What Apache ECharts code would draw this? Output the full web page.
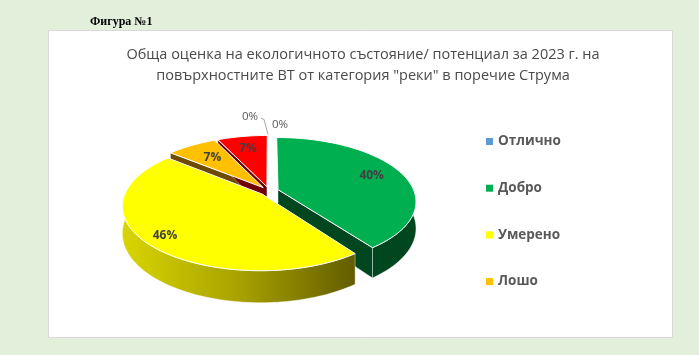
<!DOCTYPE html>
<html>
<head>
<meta charset="utf-8">
<script src="https://cdn.jsdelivr.net/npm/echarts@6/dist/echarts.min.js"></script>
<style>html,body{margin:0;padding:0;background:#e2efda;}#c{width:699px;height:355px;}</style>
</head>
<body>
<div id="c"></div>
<script>
// ---- data ----
const categories = ['Отлично', 'Добро', 'Умерено', 'Лошо', 'Много лошо', 'Неизвестно'];
const values = [0, 40, 46, 7, 7, 0];
const legendNames = ['Отлично', 'Добро', 'Умерено', 'Лошо'];
const topColors = ['#5b9bd5', '#00b050', '#ffff00', '#ffc000', '#ff0000', '#a5a5a5'];
const sideColors = ['#2e5c85', '#00461f', null, '#6e4a00', '#700000', '#555555'];
// label distance from slice apex (fraction of radius), layout only
const labelRadius = [1, 0.76, 0.86, 0.68, 0.74, 1];

// ---- 3D pie projection settings ----
const CX = 269, CY = 191, R = 136, SIN_T = 0.455, COS_T = 0.89, D = 5, H = 26, EXPLODE = 0.07;
const total = values.reduce((a, b) => a + b, 0);

function proj(u, w, down) {
  const s = D / (D - w * COS_T);
  return [CX + R * u * s, CY + R * w * SIN_T * s + down * s];
}
function sliceInfo(i) {
  let acc = 0;
  for (let k = 0; k < i; k++) acc += values[k];
  const a0 = acc / total * Math.PI * 2;
  const a1 = (acc + values[i]) / total * Math.PI * 2;
  const mid = (a0 + a1) / 2;
  return { a0, a1, mid, ou: EXPLODE * Math.sin(mid), ow: -EXPLODE * Math.cos(mid) };
}
function rim(info, t, r, down) {
  return proj(info.ou + r * Math.sin(t), info.ow - r * Math.cos(t), down);
}
function arcPts(info, t0, t1, down) {
  const n = Math.max(2, Math.ceil((t1 - t0) / (Math.PI / 120)));
  const pts = [];
  for (let k = 0; k <= n; k++) pts.push(rim(info, t0 + (t1 - t0) * k / n, 1, down));
  return pts;
}

function renderWalls(params, api) {
  const i = params.dataIndex;
  if (values[i] <= 0) return { type: 'group', children: [] };
  const info = sliceInfo(i);
  const children = [];
  const face = (t) => {
    const pts = [proj(info.ou, info.ow, 0), rim(info, t, 1, 0), rim(info, t, 1, H), proj(info.ou, info.ow, H)];
    children.push({ type: 'polygon', shape: { points: pts },
      style: { fill: sideColors[i] || '#6b6500', stroke: 'rgba(255,255,255,0.6)', lineWidth: 0.6 } });
  };
  if (Math.sin(info.a0) < -1e-6) face(info.a0);
  if (Math.sin(info.a1) > 1e-6) face(info.a1);
  const w0 = Math.max(info.a0, Math.PI / 2), w1 = Math.min(info.a1, Math.PI * 1.5);
  if (w1 > w0) {
    const top = arcPts(info, w0, w1, 0);
    const bot = arcPts(info, w0, w1, H).reverse();
    const fill = sideColors[i] ? sideColors[i] : new echarts.graphic.LinearGradient(0, 0, 1, 0, [
      { offset: 0, color: '#d9d500' }, { offset: 0.5, color: '#a8a200' }, { offset: 1, color: '#625c00' }]);
    children.push({ type: 'polygon', shape: { points: top.concat(bot) },
      style: { fill: fill, stroke: 'rgba(255,255,255,0.7)', lineWidth: 0.6 } });
  }
  return { type: 'group', children };
}

function renderTops(params, api) {
  const i = params.dataIndex;
  const info = sliceInfo(i);
  const children = [];
  const pct = Math.round(values[i] / total * 100) + '%';
  if (values[i] > 0) {
    const pts = [proj(info.ou, info.ow, 0)].concat(arcPts(info, info.a0, info.a1, 0));
    children.push({ type: 'polygon', shape: { points: pts },
      style: { fill: topColors[i], stroke: '#ffffff', lineWidth: 1 } });
    const lp = rim(info, info.mid, labelRadius[i], 0);
    children.push({ type: 'text', x: lp[0], y: lp[1], z2: 100,
      style: { text: pct, align: 'center', verticalAlign: 'middle',
        font: 'bold 12px "Open Sans", sans-serif', fill: '#404040' } });
  } else {
    const a = rim(info, info.mid, 1, 0);
    if (i === 0) {
      children.push({ type: 'text', x: a[0] + 3, y: a[1] - 11, z2: 100,
        style: { text: pct, align: 'left', verticalAlign: 'middle',
          font: '11.5px "Open Sans", sans-serif', fill: '#595959' } });
    } else {
      children.push({ type: 'text', x: a[0] - 11, y: a[1] - 19, z2: 100,
        style: { text: pct, align: 'right', verticalAlign: 'middle',
          font: '11.5px "Open Sans", sans-serif', fill: '#595959' } });
      children.push({ type: 'polyline', z2: 100,
        shape: { points: [[a[0] - 8, a[1] - 17], [a[0] - 5, a[1] - 16], [a[0] - 1, a[1] - 1]] },
        style: { stroke: '#a6a6a6', lineWidth: 1, fill: null } });
    }
  }
  return { type: 'group', children };
}

const seriesData = values.map((v, i) => ({ name: categories[i], value: [v, i], itemStyle: { color: topColors[i] } }));

const chart = echarts.init(document.getElementById('c'), null, { renderer: 'canvas' });
chart.setOption({
  backgroundColor: '#e2efda',
  animation: false,
  graphic: [
    { type: 'rect', z: -10, shape: { x: 48.5, y: 30.5, width: 624, height: 307 },
      style: { fill: '#ffffff', stroke: '#d9d9d9', lineWidth: 1 } },
    { type: 'text', z: -5, x: 90, y: 22, style: { text: 'Фигура №1', verticalAlign: 'middle',
      font: 'bold 12px "Liberation Serif", serif', fill: '#000000' } }
  ],
  title: {
    text: 'Обща оценка на екологичното състояние/ потенциал за 2023 г. на\nповърхностните ВТ от категория "реки" в поречие Струма',
    left: 358, top: 39, textAlign: 'center',
    textStyle: { fontSize: 14.5, fontWeight: 'normal', color: '#4a4a4a', lineHeight: 21,
      fontFamily: '"Open Sans", sans-serif' }
  },
  legend: {
    data: legendNames, orient: 'vertical', left: 481, top: 129.5,
    itemWidth: 7, itemHeight: 7, icon: 'rect', itemGap: 32.7,
    textStyle: { fontSize: 13.5, fontWeight: 'bold', color: '#595959', fontFamily: '"Open Sans", sans-serif' },
    selectedMode: false
  },
  series: [
    { type: 'pie', name: 'legend', radius: [0, 0], center: [CX, CY], silent: true,
      label: { show: false }, labelLine: { show: false }, data: seriesData.map(d => ({ name: d.name, value: d.value[0], itemStyle: d.itemStyle })) },
    { type: 'custom', name: 'walls', coordinateSystem: 'none', z: 1, silent: true,
      renderItem: renderWalls, data: seriesData },
    { type: 'custom', name: 'tops', coordinateSystem: 'none', z: 2,
      renderItem: renderTops, data: seriesData }
  ]
});
</script>
</body>
</html>
